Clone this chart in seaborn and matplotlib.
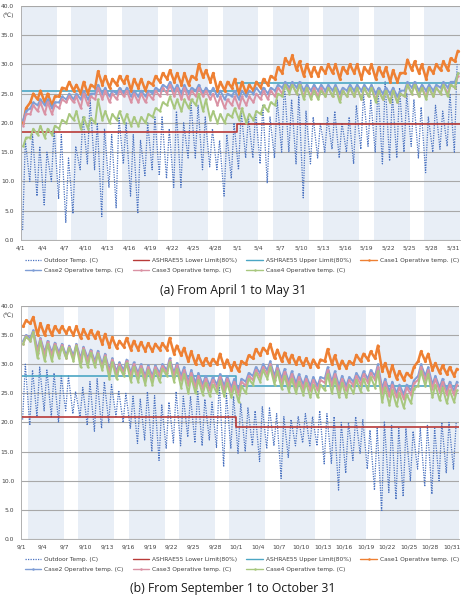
import numpy as np
import pandas as pd
import matplotlib
matplotlib.use('Agg')
import matplotlib.pyplot as plt
import seaborn as sns

out_lo_a = [1.7, 10.0, 7.5, 6.0, 10.0, 7.0, 3.0, 4.5, 12.0, 13.0, 12.0, 4.0, 9.0, 5.5, 13.0, 7.5, 4.5, 11.0, 12.0, 11.0,
            10.5, 9.0, 9.0, 14.0, 14.0, 12.0, 12.5, 12.0, 7.5, 10.5, 12.0, 14.0, 14.0, 13.0, 9.7, 14.0, 15.0, 15.0, 13.0, 7.2,
            13.0, 14.0, 15.0, 15.5, 14.0, 15.0, 13.0, 15.5, 16.0, 15.0, 13.0, 13.5, 14.0, 15.0, 16.0, 14.0, 11.5, 15.0, 15.5, 16.0, 15.0]
out_hi_a = [17, 18, 16, 15, 19, 18, 14, 16, 21, 24, 20, 19, 18, 21, 20, 18, 17, 20, 21, 21,
            19, 22, 20, 23.6, 23, 21, 19, 17, 18, 20, 22, 21, 22, 23, 21, 24, 26.8, 24, 25, 22,
            21, 20, 21, 22, 20, 21, 23, 25, 24, 26, 27, 25, 26, 25, 24, 22.7, 21, 23, 22, 25, 30]
case1_hi_a = [22.5, 25.0, 25.5, 25.0, 24.5, 26.0, 27.0, 26.5, 27.0, 26.5, 28.8, 28.0, 27.5, 28.0, 28.0, 27.5, 27.5, 27.0, 28.0, 28.5,
              29.0, 28.5, 28.5, 28.0, 30.0, 29.0, 28.5, 27.0, 27.0, 27.5, 27.0, 26.5, 27.0, 27.5, 28.0, 29.5, 31.0, 31.5, 30.5, 30.0,
              29.5, 29.5, 30.0, 30.0, 29.5, 30.0, 30.0, 29.5, 30.0, 29.5, 29.5, 29.0, 28.5, 30.8, 30.5, 30.0, 29.5, 30.0, 30.5, 31.0, 32.3]
case1_lo_a = [20.0, 23.5, 24.0, 23.5, 23.0, 24.5, 25.8, 25.5, 25.0, 25.0, 26.0, 26.5, 26.0, 26.5, 26.8, 25.5, 26.0, 25.5, 26.5, 27.0,
              27.5, 27.0, 26.5, 26.5, 27.5, 27.8, 27.0, 25.5, 25.5, 26.0, 25.0, 25.0, 25.5, 26.0, 26.5, 27.5, 28.5, 30.0, 29.0, 28.0,
              28.0, 28.0, 28.5, 28.5, 27.5, 28.5, 28.5, 27.5, 28.5, 27.5, 28.0, 27.0, 27.0, 28.5, 29.0, 28.5, 27.5, 28.5, 29.0, 29.0, 30.5]
case2_hi_a = [22.0, 23.5, 24.0, 24.0, 23.5, 24.5, 25.0, 25.0, 25.5, 25.0, 26.5, 26.0, 25.5, 26.0, 26.0, 25.5, 25.5, 25.5, 26.0, 26.5,
              27.0, 26.5, 26.5, 26.0, 26.5, 26.0, 26.0, 25.5, 25.0, 25.5, 25.5, 25.5, 26.0, 26.0, 26.0, 26.5, 27.0, 27.0, 27.0, 26.5,
              26.5, 26.5, 26.5, 26.5, 26.0, 26.5, 26.5, 26.5, 26.5, 26.0, 26.0, 26.0, 25.5, 27.0, 27.0, 26.5, 26.5, 26.5, 27.0, 27.0, 28.5]
case2_lo_a = [20.5, 22.5, 23.0, 23.0, 22.5, 23.5, 24.0, 24.0, 24.0, 24.0, 25.0, 25.0, 24.5, 25.0, 25.0, 24.5, 24.5, 24.5, 25.0, 25.5,
              26.0, 25.5, 25.0, 25.0, 25.5, 25.0, 25.0, 24.5, 24.0, 24.5, 24.0, 24.5, 25.0, 25.0, 25.0, 25.5, 26.0, 26.0, 26.0, 25.5,
              25.5, 25.5, 25.5, 25.5, 25.0, 25.5, 25.5, 25.5, 25.5, 25.0, 25.0, 25.0, 24.5, 25.5, 26.0, 25.5, 25.5, 25.5, 26.0, 26.0, 27.0]
case3_hi_a = [21.5, 23.0, 23.5, 23.5, 23.0, 24.0, 24.5, 24.5, 25.0, 24.5, 26.0, 25.5, 25.0, 25.5, 25.5, 25.0, 25.0, 25.0, 25.5, 26.0,
              26.5, 26.0, 26.0, 25.5, 26.0, 25.5, 25.0, 24.5, 24.0, 24.5, 24.5, 24.5, 25.0, 25.5, 25.5, 26.0, 26.5, 26.5, 26.5, 26.0,
              26.0, 26.0, 26.0, 26.0, 25.5, 26.0, 26.0, 26.0, 26.0, 25.5, 25.5, 25.5, 25.0, 26.5, 26.5, 26.0, 26.0, 26.0, 26.5, 26.5, 28.0]
case3_lo_a = [19.5, 21.5, 22.0, 21.5, 21.5, 22.5, 23.5, 23.5, 22.5, 23.0, 24.0, 24.0, 23.5, 24.0, 24.5, 23.5, 23.5, 23.5, 24.0, 24.5,
              25.0, 24.5, 24.0, 24.0, 24.5, 24.5, 24.0, 23.0, 22.5, 23.0, 22.5, 23.0, 23.5, 24.0, 24.0, 24.5, 25.0, 25.5, 25.0, 24.5,
              24.5, 24.5, 24.5, 24.5, 24.0, 24.5, 24.5, 24.0, 24.5, 24.0, 24.0, 23.5, 23.5, 24.5, 25.0, 24.5, 24.5, 24.5, 25.0, 25.0, 26.0]
case4_hi_a = [17.5, 19.0, 19.5, 19.0, 19.5, 20.5, 21.5, 22.0, 21.0, 20.8, 24.0, 22.0, 21.5, 22.0, 21.5, 21.0, 21.0, 21.5, 22.5, 23.5,
              24.5, 24.0, 24.0, 24.0, 25.0, 24.0, 22.0, 21.5, 21.5, 22.5, 22.5, 21.5, 22.0, 23.0, 23.5, 25.0, 26.5, 26.5, 26.5, 26.0,
              25.5, 25.5, 26.0, 26.0, 25.5, 26.0, 26.0, 26.0, 26.0, 25.5, 25.5, 25.5, 25.0, 26.5, 26.5, 26.0, 26.0, 26.0, 26.5, 26.5, 28.5]
case4_lo_a = [16.0, 17.5, 18.0, 17.5, 18.0, 19.0, 20.0, 20.5, 19.0, 19.0, 20.0, 20.5, 20.0, 20.5, 20.0, 19.5, 19.5, 20.0, 21.0, 22.0,
              23.0, 22.5, 22.0, 22.5, 23.0, 22.0, 20.5, 20.0, 20.0, 21.0, 20.5, 20.0, 20.5, 21.5, 22.0, 23.0, 24.5, 25.0, 25.0, 24.0,
              24.0, 24.0, 24.5, 24.5, 23.5, 24.5, 24.5, 24.0, 24.5, 23.5, 24.0, 23.5, 23.5, 24.5, 25.0, 24.5, 24.0, 24.5, 25.0, 24.5, 26.0]
lower_a = [18.4, 19.8]   # April, May
upper_a = [25.4, 26.8]
ticks_a = ['4/1', '4/4', '4/7', '4/10', '4/13', '4/16', '4/19', '4/22', '4/25', '4/28', '5/1',
           '5/4', '5/7', '5/10', '5/13', '5/16', '5/19', '5/22', '5/25', '5/28', '5/31']

# ---- (b) September 1 - October 31 ----
out_lo_b = [20.5, 19.5, 21.0, 22.0, 21.0, 20.0, 22.0, 21.5, 21.0, 19.5, 18.5, 19.0, 20.0, 21.0, 20.0, 19.0, 16.4, 17.0, 15.0, 13.5,
            15.5, 16.5, 16.0, 17.5, 16.5, 16.0, 17.0, 15.7, 12.4, 15.5, 14.7, 15.0, 16.0, 13.3, 15.5, 16.0, 10.4, 14.0, 16.0, 16.5,
            16.0, 16.0, 12.9, 13.0, 8.4, 11.3, 13.5, 14.7, 12.0, 8.4, 4.7, 8.0, 6.8, 7.3, 10.0, 12.0, 9.0, 7.7, 10.0, 11.3, 12.0]
out_hi_b = [30.0, 29.0, 29.5, 29.0, 28.5, 28.0, 28.0, 25.3, 26.0, 27.0, 27.5, 27.0, 26.5, 25.5, 25.0, 24.5, 24.0, 25.3, 24.6, 23.0,
            23.5, 25.3, 24.5, 24.5, 25.5, 24.0, 23.5, 27.0, 25.0, 24.5, 23.3, 22.5, 22.0, 22.7, 22.5, 21.5, 21.0, 20.5, 21.0, 21.5,
            21.0, 22.0, 21.5, 21.0, 20.0, 20.0, 21.0, 20.5, 18.7, 19.0, 20.2, 19.5, 19.0, 19.0, 18.5, 19.0, 19.5, 19.0, 20.0, 20.0, 20.0]
case1_hi_b = [37.5, 38.1, 37.0, 36.7, 36.5, 36.5, 36.3, 36.5, 36.0, 35.8, 35.6, 35.2, 34.6, 34.0, 34.5, 34.0, 33.8, 33.6, 33.5, 33.6,
              34.5, 33.2, 32.8, 32.2, 31.5, 31.0, 30.9, 31.8, 30.8, 30.3, 30.5, 31.5, 32.6, 32.8, 33.5, 32.5, 32.0, 31.6, 31.2, 31.0,
              30.8, 30.8, 32.6, 31.5, 30.6, 30.5, 31.6, 31.8, 32.2, 33.2, 30.2, 29.8, 28.8, 28.5, 29.5, 32.2, 31.8, 30.2, 29.8, 29.5, 29.2]
case1_lo_b = [36.5, 37.0, 35.0, 35.0, 35.0, 35.5, 35.3, 35.0, 34.5, 34.5, 34.5, 33.5, 33.0, 32.8, 33.0, 32.5, 32.5, 32.3, 32.2, 32.5,
              32.5, 31.8, 31.5, 30.5, 30.0, 29.8, 29.8, 30.0, 29.5, 29.0, 28.8, 30.0, 31.0, 31.5, 32.0, 31.0, 30.5, 30.3, 30.0, 29.8,
              29.5, 29.5, 30.5, 30.0, 29.3, 29.3, 30.0, 30.5, 30.8, 31.0, 28.8, 28.0, 27.5, 27.3, 27.8, 30.5, 30.5, 29.0, 28.5, 28.3, 28.0]
case2_hi_b = [35.0, 35.8, 34.5, 34.0, 33.7, 33.5, 33.2, 33.5, 33.0, 32.5, 32.3, 31.8, 31.0, 30.3, 30.8, 30.3, 30.0, 29.8, 29.8, 30.0,
              31.0, 30.2, 29.5, 29.0, 28.5, 28.0, 27.8, 28.3, 28.0, 27.5, 27.5, 28.5, 29.5, 30.0, 30.5, 29.8, 29.2, 28.8, 28.3, 28.0,
              27.8, 27.8, 29.5, 28.8, 28.0, 27.8, 28.5, 28.8, 29.0, 30.0, 27.5, 27.0, 26.5, 26.5, 27.2, 30.0, 29.5, 28.0, 27.5, 27.0, 27.0]
case2_lo_b = [34.0, 34.5, 32.5, 32.0, 32.0, 32.0, 31.5, 31.5, 31.0, 31.0, 30.5, 30.0, 29.0, 28.8, 29.0, 28.5, 28.5, 28.0, 28.0, 28.5,
              29.0, 28.5, 28.0, 27.0, 26.8, 26.5, 26.3, 26.5, 26.3, 26.0, 25.5, 27.0, 28.0, 28.5, 29.0, 28.0, 27.5, 27.0, 26.8, 26.5,
              26.3, 26.3, 27.5, 27.0, 26.3, 26.3, 27.0, 27.3, 27.5, 28.0, 25.8, 25.3, 25.0, 24.8, 25.5, 28.0, 28.0, 26.5, 26.0, 25.5, 25.5]
case3_hi_b = [34.8, 35.6, 34.3, 33.8, 33.5, 33.3, 33.0, 33.3, 32.8, 32.3, 32.0, 31.5, 30.8, 30.0, 30.5, 30.0, 29.7, 29.5, 29.5, 29.7,
              30.7, 29.8, 29.0, 28.5, 28.0, 27.5, 27.3, 27.8, 27.5, 27.0, 27.0, 28.0, 29.0, 29.5, 30.0, 29.3, 28.7, 28.3, 27.8, 27.5,
              27.3, 27.3, 29.0, 28.3, 27.5, 27.3, 28.0, 28.3, 28.5, 29.5, 27.0, 26.5, 26.0, 26.0, 26.7, 29.5, 29.0, 27.5, 27.0, 26.5, 26.5]
case3_lo_b = [33.5, 34.0, 32.0, 31.5, 31.5, 31.5, 31.0, 31.0, 30.5, 30.5, 30.0, 29.5, 28.5, 28.3, 28.5, 28.0, 28.0, 27.5, 27.5, 28.0,
              28.5, 28.0, 27.3, 26.5, 26.0, 25.8, 25.5, 25.8, 25.5, 25.3, 24.8, 26.3, 27.3, 27.8, 28.3, 27.3, 26.8, 26.3, 26.0, 25.8,
              25.5, 25.5, 26.8, 26.3, 25.5, 25.5, 26.3, 26.5, 26.8, 27.3, 25.0, 24.5, 24.3, 24.0, 24.8, 27.3, 27.3, 25.8, 25.3, 24.8, 24.8]
case4_hi_b = [34.7, 35.5, 34.0, 33.5, 33.2, 33.0, 32.8, 33.2, 32.5, 32.0, 31.8, 31.2, 30.3, 29.5, 30.2, 29.5, 29.2, 29.0, 29.0, 29.2,
              30.3, 29.2, 28.3, 27.8, 27.3, 26.8, 26.5, 27.2, 26.8, 26.3, 26.3, 27.5, 28.5, 29.0, 29.5, 28.8, 28.0, 27.5, 27.0, 26.8,
              26.5, 26.5, 28.3, 27.5, 26.8, 26.5, 27.3, 27.5, 27.8, 28.8, 26.0, 25.5, 25.0, 24.8, 25.8, 28.8, 28.3, 26.5, 26.0, 25.5, 25.5]
case4_lo_b = [33.5, 34.0, 31.0, 30.5, 30.5, 31.0, 31.0, 30.5, 29.5, 29.5, 29.5, 29.0, 27.5, 27.5, 28.0, 27.0, 27.0, 26.5, 26.5, 27.0,
              28.0, 27.0, 26.0, 25.0, 25.0, 24.8, 24.5, 25.0, 24.5, 24.3, 23.5, 25.0, 26.5, 27.0, 27.5, 26.5, 25.8, 25.3, 25.0, 24.8,
              24.3, 24.3, 25.5, 25.0, 24.3, 24.3, 25.0, 25.3, 25.5, 26.0, 23.5, 23.0, 22.8, 22.5, 23.3, 26.3, 26.3, 24.3, 23.8, 23.3, 23.5]
lower_b = [21.0, 19.3]   # September, October
upper_b = [27.9, 26.2]
ticks_b = ['9/1', '9/4', '9/7', '9/10', '9/13', '9/16', '9/19', '9/22', '9/25', '9/28', '10/1',
           '10/4', '10/7', '10/10', '10/13', '10/16', '10/19', '10/22', '10/25', '10/28', '10/31']

month_days = [30, 31]

names = ['Outdoor Temp. (C)', 'ASHRAE55 Lower Limit(80%)', 'ASHRAE55 Upper Limit(80%)',
         'Case1 Operative temp. (C)', 'Case2 Operative temp. (C)',
         'Case3 Operative temp. (C)', 'Case4 Operative temp. (C)']
case_colors = ['#EE8033', '#7F9ED6', '#DA92A4', '#A8C77E']

for lst in [out_lo_a, out_hi_a, case1_hi_a, case1_lo_a, case2_hi_a, case2_lo_a, case3_hi_a, case3_lo_a,
            case4_hi_a, case4_lo_a, out_lo_b, out_hi_b, case1_hi_b, case1_lo_b, case2_hi_b, case2_lo_b,
            case3_hi_b, case3_lo_b, case4_hi_b, case4_lo_b]:
    assert len(lst) == 61, len(lst)


def daily(lo, hi, t_lo, t_hi):
    # one low and one high point per day
    d = np.arange(len(lo))
    t = np.column_stack([d + t_lo, d + t_hi]).ravel()
    v = np.column_stack([lo, hi]).ravel()
    return pd.DataFrame({'t': t, 'temp': v})


def draw_panel(ax, start, out_lo, out_hi, cases, lower, upper, ticks):
    ndays = len(out_lo)
    # weekday shading, weekends left white
    dates = pd.date_range(start, periods=ndays)
    work = dates.dayofweek < 5
    d = 0
    while d < ndays:
        if work[d]:
            e = d
            while e < ndays and work[e]:
                e += 1
            ax.axvspan(d, e, color='#E8EEF6', lw=0, zorder=0.1)
            d = e
        else:
            d += 1

    sns.lineplot(data=daily(out_lo, out_hi, 0.22, 0.6), x='t', y='temp', ax=ax, sort=False,
                 estimator=None, color='#4A72C0', lw=0.9, linestyle=(0, (1.0, 1.0)), label=names[0])

    lim_t = np.cumsum([0] + month_days)
    for vals, col, nm in [(lower, '#B83A38', names[1]), (upper, '#4BA6C4', names[2])]:
        sns.lineplot(x=lim_t, y=list(vals) + [vals[-1]], ax=ax, sort=False, estimator=None,
                     color=col, lw=1.2, drawstyle='steps-post', label=nm)

    for i, (lo, hi) in enumerate(cases):
        sns.lineplot(data=daily(lo, hi, 0.3, 0.7), x='t', y='temp', ax=ax, sort=False, estimator=None,
                     color=case_colors[i], lw=1.8 if i == 0 else 1.4, marker='o',
                     markersize=2.3 if i == 0 else 1.8, markeredgewidth=0, label=names[3 + i])

    ax.set_xlim(0, ndays)
    ax.set_ylim(0, 40)
    ax.set_yticks(np.arange(0, 41, 5))
    ax.set_yticklabels([f'{v:.1f}' for v in np.arange(0, 41, 5)])
    ax.set_xticks(np.arange(0, ndays, 3))
    ax.set_xticklabels(ticks)
    ax.set_xticks(np.arange(0, ndays + 1), minor=True)
    ax.set_xlabel('')
    ax.set_ylabel('')
    ax.yaxis.grid(True, color='#A8A8A8', lw=0.8)
    ax.set_axisbelow(True)
    ax.tick_params(axis='y', length=0, labelsize=4.3, pad=5, labelcolor='#404040')
    ax.tick_params(axis='x', which='both', direction='out', length=2, width=0.5, color='#999999',
                   labelsize=4.3, pad=2, labelcolor='#404040')
    for s in ['top', 'right']:
        ax.spines[s].set_visible(False)
    for s in ['left', 'bottom']:
        ax.spines[s].set_color('#B0B0B0')
        ax.spines[s].set_linewidth(0.7)
    if ax.get_legend():
        ax.get_legend().remove()


sns.set_theme(style='white')
plt.rcParams['font.family'] = ['DejaVu Sans']

fig = plt.figure(figsize=(4.65, 6.07), dpi=100)
ax_a = fig.add_axes([0.0452, 0.6046, 0.944, 0.386])
ax_b = fig.add_axes([0.0452, 0.112, 0.942, 0.384])

draw_panel(ax_a, '2013-04-01', out_lo_a, out_hi_a,
           [(case1_lo_a, case1_hi_a), (case2_lo_a, case2_hi_a), (case3_lo_a, case3_hi_a), (case4_lo_a, case4_hi_a)],
           lower_a, upper_a, ticks_a)
draw_panel(ax_b, '2013-09-01', out_lo_b, out_hi_b,
           [(case1_lo_b, case1_hi_b), (case2_lo_b, case2_hi_b), (case3_lo_b, case3_hi_b), (case4_lo_b, case4_hi_b)],
           lower_b, upper_b, ticks_b)

# legends: 4 columns, filled row by row
order = [0, 4, 1, 5, 2, 6, 3]
for ax, ytop in [(ax_a, 0.5800), (ax_b, 0.0875)]:
    h, l = ax.get_legend_handles_labels()
    leg = ax.legend([h[i] for i in order], [l[i] for i in order], ncol=4, loc='upper center',
                    bbox_to_anchor=(0.52, ytop), bbox_transform=fig.transFigure, frameon=False,
                    fontsize=4.2, handlelength=2.8, handletextpad=0.5, columnspacing=1.6,
                    labelspacing=0.9, borderpad=0, labelcolor='#404040')
    for line in leg.get_lines():
        line.set_linewidth(0.9 if line.get_linestyle() != '-' else 1.0)
        line.set_markersize(1.8)

fig.text(0.030, 0.975, '(℃)', fontsize=4.3, ha='right', va='center', color='#404040')
fig.text(0.030, 0.481, '(℃)', fontsize=4.3, ha='right', va='center', color='#404040')

fig.text(0.501, 0.522, '(a) From April 1 to May 31', ha='center', va='center',
         fontsize=8.8, family=['Open Sans', 'DejaVu Sans'], color='#1A1A1A')
fig.text(0.501, 0.0297, '(b) From September 1 to October 31', ha='center', va='center',
         fontsize=8.8, family=['Open Sans', 'DejaVu Sans'], color='#1A1A1A')

fig.savefig('out.png', dpi=100)
